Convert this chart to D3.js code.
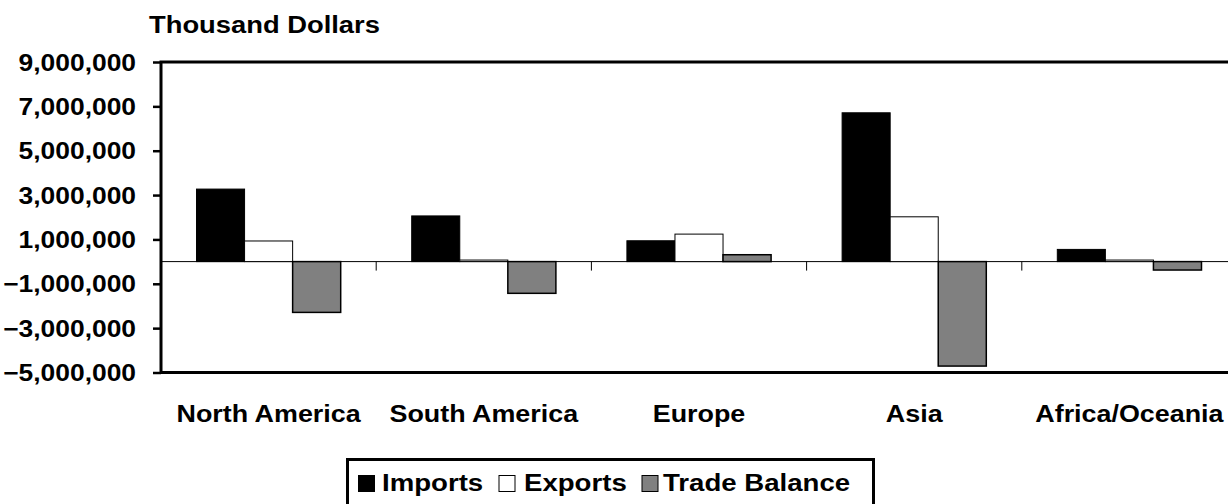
<!DOCTYPE html>
<html>
<head>
<meta charset="utf-8">
<script src="https://cdn.jsdelivr.net/npm/d3@7"></script>
<style>
  body { margin: 0; background: #fff; }
  text { font-family: "Liberation Sans", Arial, sans-serif; font-weight: bold; fill: #000; }
</style>
</head>
<body>
<div id="graph"></div>
<script>
var regions = ["North America", "South America", "Europe", "Asia", "Africa/Oceania"];
var imports = [3270000, 2060000, 940000, 6710000, 550000];
var exports = [930000, 70000, 1240000, 2020000, 70000];
var tradeBalance = [-2290000, -1430000, 310000, -4710000, -380000];
var seriesNames = ["Imports", "Exports", "Trade Balance"];
var seriesColors = ["#000000", "#ffffff", "#808080"];
var yTicks = [9000000, 7000000, 5000000, 3000000, 1000000, -1000000, -3000000, -5000000];

var margin = {top: 62, left: 161};
var width = 1076;
var height = 310.5;
var fontSize = 24;
var stretch = 1.13;   // the original text is a bit wider than Liberation Sans

var svg = d3.select('#graph')
  .append('svg')
    .attr("width", 1228)
    .attr("height", 504);

// text stretched horizontally around its anchor point
function wideText(parent, x, y, str, anchor, sx) {
  return parent.append("text")
      .attr("transform", "translate(" + x + "," + y + ") scale(" + sx + ",1)")
      .attr("text-anchor", anchor)
      .attr("font-size", fontSize)
      .text(str);
}

var g = svg.append("g")
    .attr("transform", "translate(" + margin.left + "," + margin.top + ")");

var data = regions.map(function(r, i) {
  return {region: r, values: [imports[i], exports[i], tradeBalance[i]]};
});

var x0 = d3.scaleBand()
    .domain(regions)
    .range([0, width])
    .paddingInner(0.33)
    .paddingOuter(0.165);

var x1 = d3.scaleBand()
    .domain(seriesNames)
    .range([0, x0.bandwidth()]);

var y = d3.scaleLinear()
    .domain([-5000000, 9000000])
    .range([height, 0]);

// zero line
g.append("line")
    .attr("x1", 0).attr("x2", width)
    .attr("y1", y(0)).attr("y2", y(0))
    .attr("stroke", "#000").attr("stroke-width", 1);

// category ticks hanging below zero line
g.selectAll(".cat-tick")
  .data(d3.range(regions.length + 1))
  .enter().append("line")
    .attr("x1", function(i) { return x0.step() * i; })
    .attr("x2", function(i) { return x0.step() * i; })
    .attr("y1", y(0)).attr("y2", y(0) + 9)
    .attr("stroke", "#000").attr("stroke-width", 1);

// bars
var groups = g.selectAll(".group")
  .data(data)
  .enter().append("g")
    .attr("transform", function(d) { return "translate(" + x0(d.region) + ",0)"; });

groups.selectAll("rect")
  .data(function(d) { return d.values.map(function(v, k) { return {key: seriesNames[k], value: v, k: k}; }); })
  .enter().append("rect")
    .attr("x", function(d) { return x1(d.key); })
    .attr("width", x1.bandwidth())
    .attr("y", function(d) { return y(Math.max(0, d.value)); })
    .attr("height", function(d) { return Math.abs(y(d.value) - y(0)); })
    .attr("fill", function(d) { return seriesColors[d.k]; })
    .attr("stroke", "#000")
    .attr("stroke-width", function(d) { return d.k == 2 ? 1.5 : 1; });

// frame: left, top, bottom (right edge falls outside the picture)
g.append("rect")
    .attr("x", 0).attr("y", 0)
    .attr("width", width).attr("height", height)
    .attr("fill", "none")
    .attr("stroke", "#000").attr("stroke-width", 3);

// Y axis (ticks only, labels drawn stretched)
var yAxis = g.append("g")
    .call(d3.axisLeft(y).tickValues(yTicks).tickSize(8).tickFormat(""));
yAxis.select(".domain").remove();
yAxis.selectAll("line").attr("stroke", "#000").attr("stroke-width", 2.5);

yTicks.forEach(function(t) {
  wideText(g, -25, y(t) + 8.5, d3.format(",")(t), "end", 1.10);
});

// category labels
regions.forEach(function(r) {
  wideText(g, x0(r) + x0.bandwidth() / 2, 421.7 - margin.top, r, "middle", 1.12);
});

// Y axis name
wideText(svg, 149, 32.7, "Thousand Dollars", "start", 1.14);

// legend
var legend = svg.append("g");
legend.append("rect")
    .attr("x", 347.5).attr("y", 459.5)
    .attr("width", 526).attr("height", 60)
    .attr("fill", "#fff")
    .attr("stroke", "#000").attr("stroke-width", 3);

var legendX = [358, 498.5, 641.5];
var legendTextX = [382, 524, 663];
seriesNames.forEach(function(name, k) {
  legend.append("rect")
      .attr("x", legendX[k] + 0.5).attr("y", 475.5)
      .attr("width", 16).attr("height", 16)
      .attr("fill", seriesColors[k])
      .attr("stroke", "#000").attr("stroke-width", 1);
  wideText(legend, legendTextX[k], 491, name, "start", 1.15);
});
</script>
</body>
</html>
